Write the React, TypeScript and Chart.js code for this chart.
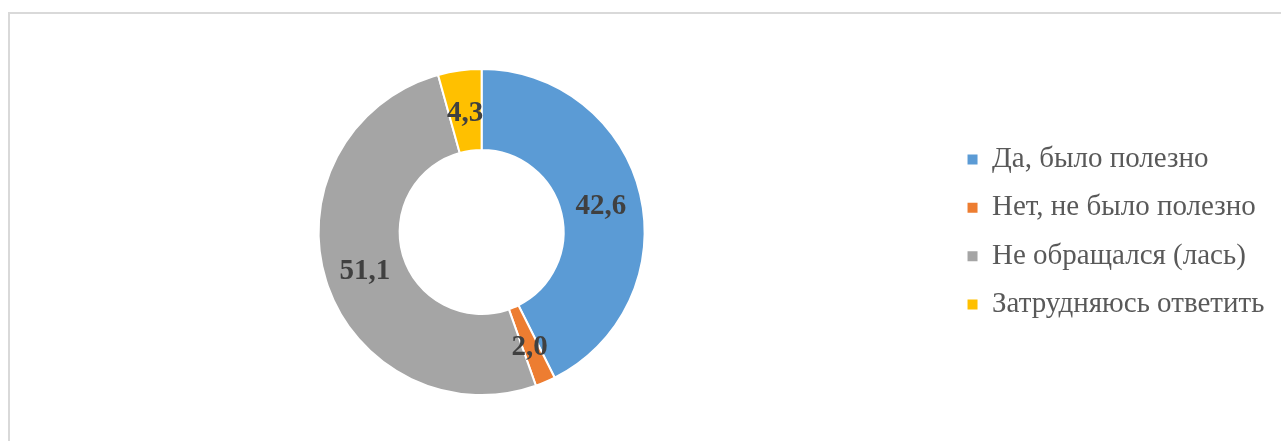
import React, { useEffect, useRef } from "react";
import { Chart, registerables } from "chart.js";

Chart.register(...registerables);

const categories = [
  "Да, было полезно",
  "Нет, не было полезно",
  "Не обращался (лась)",
  "Затрудняюсь ответить",
];
const values = [42.6, 2.0, 51.1, 4.3];
const valueLabels = ["42,6", "2,0", "51,1", "4,3"];
const colors = ["#5B9BD5", "#ED7D31", "#A5A5A5", "#FFC000"];

const FONT = "'Times New Roman', 'Liberation Serif', serif";

const dataLabelPlugin = {
  id: "dataLabels",
  afterDatasetsDraw(chart: any) {
    const ctx = chart.ctx;
    const meta = chart.getDatasetMeta(0);
    ctx.save();
    ctx.font = `bold 29px ${FONT}`;
    ctx.fillStyle = "#404040";
    ctx.textAlign = "center";
    ctx.textBaseline = "alphabetic";
    meta.data.forEach((arc: any, i: number) => {
      const p = arc.getCenterPoint();
      ctx.fillText(valueLabels[i], p.x, p.y + 10.5);
    });
    ctx.restore();
  },
};

export default function App() {
  const ref = useRef<HTMLCanvasElement | null>(null);
  useEffect(() => {
    if (!ref.current) return;
    const chart = new Chart(ref.current, {
      type: "doughnut",
      data: {
        labels: categories,
        datasets: [
          {
            data: values,
            backgroundColor: colors,
            borderColor: "#ffffff",
            borderWidth: 2,
            hoverOffset: 0,
            radius: 163,
          } as any,
        ],
      },
      options: {
        animation: false,
        responsive: false,
        cutout: "50.3%",
        layout: { padding: { left: 15, right: 25.6, top: 30, bottom: 7 } },
        plugins: {
          tooltip: { enabled: false },
          legend: {
            position: "right",
            align: "center",
            labels: {
              boxWidth: 10,
              boxHeight: 10,
              padding: 19.3,
              color: "#595959",
              font: { family: FONT, size: 29 },
              generateLabels: (c: any) =>
                (Chart as any).overrides.doughnut.plugins.legend.labels
                  .generateLabels(c)
                  .map((l: any) => ({ ...l, lineWidth: 0 })),
            },
          },
        },
      } as any,
      plugins: [dataLabelPlugin],
    });
    return () => chart.destroy();
  }, []);

  return (
    <div style={{ position: "fixed", left: 0, top: 0, width: 1281, height: 441, overflow: "hidden", background: "#fff" }}>
      <div
        style={{
          position: "absolute",
          left: 8,
          top: 12,
          width: 1300,
          height: 460,
          borderLeft: "2px solid #d9d9d9",
          borderTop: "2px solid #d9d9d9",
        }}
      />
      <canvas
        ref={ref}
        width={1300}
        height={441}
        style={{ position: "absolute", left: 0, top: 0, width: 1300, height: 441 }}
      />
    </div>
  );
}
